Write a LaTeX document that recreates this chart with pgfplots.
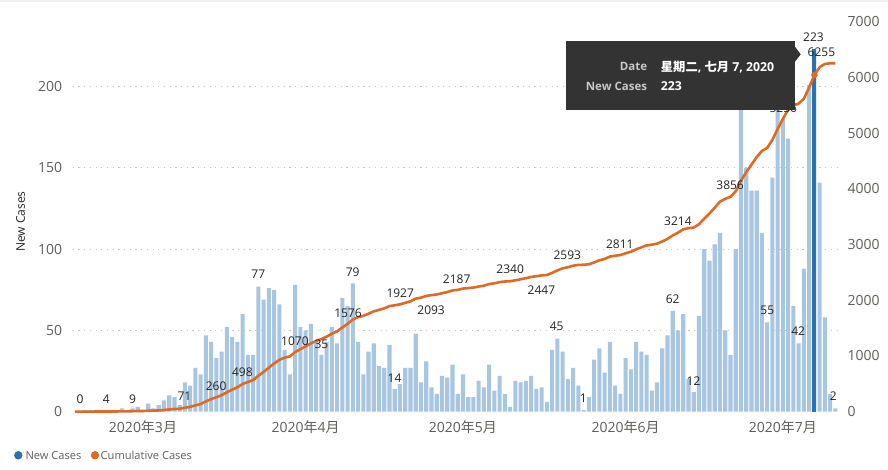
\documentclass[border=0pt]{standalone}
\usepackage{fontspec}
\setmainfont{Open Sans}
\newfontfamily\cjk{Noto Sans CJK SC}
\usepackage{pgfplots}
\usepackage{pgfplotstable}
\pgfplotsset{compat=1.18}

\definecolor{barlight}{HTML}{A9C6E1}
\definecolor{bardark}{HTML}{2B71B0}
\definecolor{cumline}{HTML}{DE6A26}
\definecolor{tickc}{HTML}{605E5C}
\definecolor{labelc}{HTML}{252423}
\definecolor{gridc}{HTML}{C8C6C4}
\definecolor{tipbg}{HTML}{333333}
\definecolor{tipgrey}{HTML}{C8C8C8}
\definecolor{edge}{HTML}{EFEFEF}

% day 0 = 2020-03-01
\pgfplotstableread{
d new cum
-13 0 0
-12 0 0
-11 1 1
-10 1 2
-9 1 3
-8 0 3
-7 1 4
-6 0 4
-5 0 4
-4 2 6
-3 1 7
-2 2 9
-1 3 12
0 0 12
1 5 17
2 2 19
3 4 23
4 7 30
5 10 40
6 9 49
7 4 53
8 18 71
9 16 87
10 27 114
11 23 137
12 47 184
13 43 227
14 33 260
15 37 297
16 52 349
17 46 395
18 43 438
19 60 498
20 35 533
21 35 568
22 77 645
23 69 714
24 76 790
25 75 865
26 66 931
27 38 969
28 23 992
29 78 1070
30 52 1122
31 50 1172
32 54 1226
33 43 1269
34 35 1304
35 43 1347
36 52 1399
37 42 1441
38 70 1511
39 65 1576
40 79 1655
41 43 1698
42 23 1721
43 37 1758
44 42 1800
45 28 1828
46 27 1855
47 41 1896
48 14 1910
49 17 1927
50 27 1954
51 27 1981
52 48 2029
53 18 2047
54 31 2078
55 15 2093
56 11 2104
57 22 2126
58 21 2147
59 29 2176
60 11 2187
61 23 2210
62 9 2219
63 9 2228
64 19 2247
65 15 2262
66 29 2291
67 13 2304
68 22 2326
69 11 2337
70 3 2340
71 19 2359
72 18 2377
73 19 2396
74 22 2418
75 14 2432
76 15 2447
77 6 2453
78 38 2491
79 45 2536
80 37 2573
81 20 2593
82 27 2620
83 16 2636
84 1 2637
85 9 2646
86 32 2678
87 39 2717
88 24 2741
89 43 2784
90 16 2800
91 11 2811
92 33 2844
93 26 2870
94 43 2913
95 37 2950
96 35 2985
97 13 2998
98 18 3016
99 39 3055
100 47 3102
101 62 3164
102 50 3214
103 60 3274
104 20 3294
105 12 3306
106 59 3365
107 100 3465
108 93 3558
109 103 3661
110 110 3771
111 50 3821
112 35 3856
113 100 3956
114 192 4148
115 150 4298
116 136 4434
117 136 4570
118 110 4680
119 55 4735
120 144 4879
121 197 5076
122 180 5256
123 168 5424
124 65 5489
125 42 5531
126 88 5619
127 201 5820
128 223 6043
129 141 6184
130 58 6242
131 11 6253
132 2 6255
}\cases

% data labels, placed in left-axis units
\pgfplotstableread{
x y lab
-12 7.8 0
-7 7.8 4
-2 7.8 9
7.9 9.7 71
13.95 15.8 260
18.94 24.2 498
21.98 84.6 77
28.96 43.5 1070
34.03 41.7 35
39.08 60.9 1576
39.98 86.0 79
49.04 73.2 1927
47.96 20.9 14
54.93 62.6 2093
59.80 81.7 2187
70.0 87.6 2340
75.95 74.5 2447
80.89 96.4 2593
78.87 52.3 45
83.93 8.2 1
90.90 103.2 2811
100.97 69.2 62
104.96 19.1 12
101.98 117.5 3214
111.93 139.5 3856
119.02 62.2 55
124.91 49.7 42
122.06 186.7 5256
127.82 230.4 223
129.34 221.5 6255
131.62 9.7 2
}\labels

\pgfplotsset{
  frame/.style={
    at={(72.7bp,58.3bp)}, anchor=south west,
    scale only axis, width=765.3bp, height=390bp,
    xmin=-13.4, xmax=132.5, clip=false,
    axis line style={draw=none}, major tick length=0,
    tick label style={font=\fontsize{14bp}{16bp}\selectfont, text=tickc},
    /pgf/number format/assume math mode=true,
    /pgf/number format/1000 sep={},
    scaled ticks=false,
  }
}

\begin{document}
\begin{tikzpicture}
\useasboundingbox (0,0) rectangle (888bp,470bp);
\fill[white] (0,0) rectangle (888bp,470bp);
\fill[edge] (0,468bp) rectangle (888bp,470bp);

% new cases, left axis
\begin{axis}[frame,
  ymin=0, ymax=240,
  ytick={50,100,150,200}, extra y ticks={0}, extra y tick style={grid=none},
  ymajorgrids, grid style={gridc, dash pattern=on 1.2bp off 4.5bp, line width=0.9bp},
  xtick={0,31,61,92,122},
  xticklabels={2020{\cjk 年}3{\cjk 月},2020{\cjk 年}4{\cjk 月},2020{\cjk 年}5{\cjk 月},2020{\cjk 年}6{\cjk 月},2020{\cjk 年}7{\cjk 月}},
  yticklabel style={anchor=east, inner sep=0pt, xshift=-10.4bp},
  xticklabel style={anchor=center, inner sep=0pt, yshift=-15bp},
]
\addplot[ybar, bar shift=0, bar width=0.78, fill=barlight, draw=none] table[x=d, y=new] {\cases};
\addplot[ybar, bar shift=0, bar width=0.78, fill=bardark, draw=none] coordinates {(128,223)};
\end{axis}

% cumulative cases, right axis
\begin{axis}[frame,
  ymin=0, ymax=7000,
  axis y line*=right, axis x line=none,
  ytick={0,1000,...,7000},
  yticklabel style={anchor=west, inner sep=0pt, xshift=9.3bp},
]
\addplot[cumline, line width=2.6bp, line join=round, mark=none] table[x=d, y=cum] {\cases};
\addplot[only marks, mark=*, mark size=3bp, cumline] coordinates {(128,6043)};
\end{axis}

% data labels
\begin{axis}[frame, ymin=0, ymax=240, hide axis]
\addplot[only marks, mark=none, nodes near coords, point meta=explicit symbolic,
  every node near coord/.append style={anchor=center, inner sep=0pt,
    font=\fontsize{12bp}{14bp}\selectfont, text=labelc}]
  table[x=x, y=y, meta=lab] {\labels};
\end{axis}

% axis title
\node[rotate=90, inner sep=0pt, font=\fontsize{12bp}{14bp}\selectfont, text=labelc]
  at (20.5bp,248.5bp) {New Cases};

% legend
\fill[bardark] (18.3bp,14.7bp) circle (4.2bp);
\node[anchor=west, inner sep=0pt, font=\fontsize{11.1bp}{13bp}\selectfont, text=tickc]
  at (25.3bp,14.7bp) {New Cases};
\fill[cumline] (95bp,14.7bp) circle (4.2bp);
\node[anchor=west, inner sep=0pt, font=\fontsize{11.1bp}{13bp}\selectfont, text=tickc]
  at (100.5bp,14.7bp) {Cumulative Cases};

% tooltip
\fill[tipbg] (566bp,360bp) rectangle (795bp,429bp);
\fill[tipbg] (795bp,423.3bp) -- (800.7bp,415.7bp) -- (795bp,408.3bp) -- cycle;
\node[anchor=east, inner sep=0pt, font=\bfseries\fontsize{11.5bp}{13bp}\selectfont, text=tipgrey]
  at (647.3bp,403.3bp) {Date};
\node[anchor=west, inner sep=0pt, font=\bfseries\fontsize{12.3bp}{14bp}\selectfont, text=white]
  at (660.7bp,403.3bp) {{\cjk\bfseries 星期二}, {\cjk\bfseries 七月} 7, 2020};
\node[anchor=east, inner sep=0pt, font=\bfseries\fontsize{11.5bp}{13bp}\selectfont, text=tipgrey]
  at (647.3bp,384bp) {New Cases};
\node[anchor=west, inner sep=0pt, font=\bfseries\fontsize{12.3bp}{14bp}\selectfont, text=white]
  at (660.7bp,384bp) {223};
\end{tikzpicture}
\end{document}
